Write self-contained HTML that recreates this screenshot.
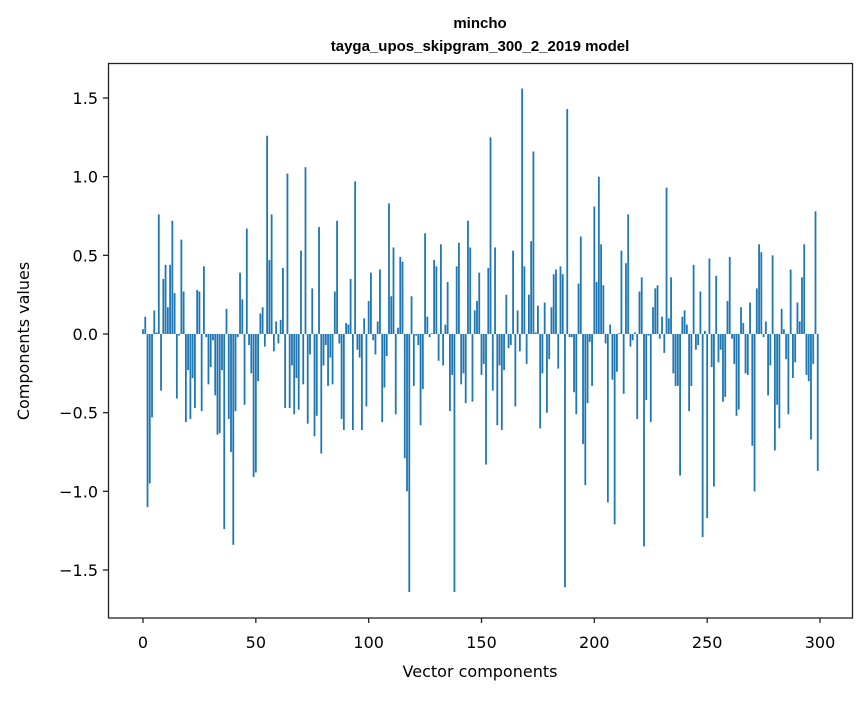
<!DOCTYPE html>
<html><head><meta charset="utf-8"><style>
body{margin:0;background:#fff;}
svg text{font-family:"DejaVu Sans","Liberation Sans",sans-serif;fill:#000;}
svg text.title{font-family:"Liberation Sans",sans-serif;}
</style></head><body>
<svg id="chart" width="867" height="696">
<text class="title" x="480" y="28" text-anchor="middle" font-size="15" font-weight="bold">mincho</text>
<text class="title" x="480" y="51" text-anchor="middle" font-size="15" font-weight="bold">tayga_upos_skipgram_300_2_2019 model</text>
<g id="bars"></g>
<g id="xticks"></g>
<g id="yticks"></g>
<rect x="108.5" y="63.5" width="744" height="554.5" fill="none" stroke="#222" stroke-width="1.3"/>
<text x="480" y="677" text-anchor="middle" font-size="16">Vector components</text>
<text transform="translate(29,341) rotate(-90)" text-anchor="middle" font-size="16">Components values</text>
</svg>
<script>
const values = [0.03,0.11,-1.1,-0.95,-0.53,0.15,0.01,0.76,-0.36,0.35,
0.44,0.17,0.44,0.72,0.26,-0.41,-0.01,0.60,0.27,-0.56,
-0.23,-0.54,-0.28,-0.47,0.28,0.27,-0.49,0.43,-0.02,-0.32,
-0.21,-0.04,-0.39,-0.64,-0.63,-0.23,-1.24,0.16,-0.54,-0.75,
-1.34,-0.49,-0.02,0.39,0.22,-0.45,0.67,-0.07,-0.25,-0.91,
-0.88,-0.30,0.13,0.17,-0.08,1.26,0.47,0.76,-0.11,0.08,
-0.06,0.09,0.42,-0.47,1.02,-0.47,-0.20,-0.51,-0.28,-0.48,
0.53,-0.32,1.06,-0.57,-0.13,0.29,-0.65,-0.52,0.68,-0.76,
-0.20,-0.07,-0.33,-0.15,-0.32,0.27,0.72,-0.06,-0.54,-0.61,
0.07,0.06,0.35,-0.61,0.97,-0.10,-0.15,-0.61,0.10,-0.46,
0.21,0.39,-0.04,-0.13,0.08,0.41,-0.56,-0.34,-0.14,0.83,
0.24,0.55,-0.51,0.04,0.49,0.46,-0.79,-1.00,-1.64,0.24,
-0.33,-0.01,-0.07,-0.58,-0.35,0.64,0.11,-0.02,0.005,0.47,
0.43,-0.17,0.57,-0.20,0.06,0.33,-0.49,-0.26,-1.64,0.43,
0.58,-0.32,-0.25,-0.44,0.72,0.55,-0.43,0.15,0.21,0.39,
-0.26,-0.19,-0.83,0.42,1.25,-0.36,0.55,-0.58,-0.20,-0.61,
-0.23,0.25,-0.09,-0.07,0.53,-0.46,0.15,-0.11,1.56,0.43,
-0.19,0.25,0.59,1.16,0.01,0.18,-0.60,-0.25,0.20,-0.50,
-0.16,0.17,0.38,0.41,-0.22,0.43,0.38,-1.61,1.43,-0.02,
-0.02,-0.37,-0.51,0.32,0.62,-0.70,-0.96,-0.44,-0.05,-0.33,
0.81,0.33,1.00,0.57,0.31,-0.06,-1.07,0.06,-0.29,-1.21,
-0.24,0.005,0.53,-0.38,0.45,0.76,-0.08,-0.04,0.01,-0.54,
0.27,0.36,-1.35,-0.42,-0.01,-0.56,0.17,0.29,0.31,-0.03,
0.11,-0.12,0.93,0.10,0.36,-0.25,-0.33,-0.33,-0.90,0.11,
0.15,0.06,-0.49,-0.33,0.44,-0.10,-0.07,0.27,-1.29,0.02,
-1.17,0.48,-0.21,-0.97,0.37,-0.18,-0.10,-0.43,-0.40,0.21,
0.49,-0.03,-0.19,-0.52,-0.48,0.17,0.07,-0.25,-0.26,0.20,
-0.71,-1.00,0.29,0.57,0.52,-0.02,0.08,-0.39,-0.20,0.50,
-0.74,-0.45,-0.60,0.16,0.03,-0.16,-0.51,0.41,-0.28,-0.18,
0.20,0.08,0.36,0.57,-0.26,-0.30,-0.67,-0.19,0.78,-0.87];
const xTickLabels = ["0","50","100","150","200","250","300"];
const xTickValues = [0,50,100,150,200,250,300];
const yTickValues = [-1.5,-1.0,-0.5,0.0,0.5,1.0,1.5];
const yTickLabels = ["\u22121.5","\u22121.0","\u22120.5","0.0","0.5","1.0","1.5"];

const NS="http://www.w3.org/2000/svg";
function xScale(v){return 143+v*(677/300);}
function yScale(v){return 334-v*157.33;}
const bars=document.getElementById('bars');
values.forEach((v,i)=>{
  const r=document.createElementNS(NS,'rect');
  const w=0.8*(677/300);
  const y0=yScale(0), y1=yScale(v);
  r.setAttribute('x',xScale(i)-w/2);
  r.setAttribute('y',Math.min(y0,y1));
  r.setAttribute('width',w);
  r.setAttribute('height',Math.max(Math.abs(y1-y0),0.3));
  r.setAttribute('fill','#1f77b4');
  
  
  bars.appendChild(r);
});
const xg=document.getElementById('xticks');
xTickValues.forEach((v,i)=>{
  const x=xScale(v);
  const l=document.createElementNS(NS,'line');
  l.setAttribute('x1',x);l.setAttribute('x2',x);l.setAttribute('y1',618);l.setAttribute('y2',623);
  l.setAttribute('stroke','#222');
  l.setAttribute('stroke-width','1.3');
  
  
  xg.appendChild(l);
  const t=document.createElementNS(NS,'text');
  t.setAttribute('x',x);t.setAttribute('y',648);t.setAttribute('text-anchor','middle');t.setAttribute('font-size','16');
  t.textContent=xTickLabels[i];
  
  
  xg.appendChild(t);
});
const yg=document.getElementById('yticks');
yTickValues.forEach((v,i)=>{
  const y=yScale(v);
  const l=document.createElementNS(NS,'line');
  l.setAttribute('x1',103);l.setAttribute('x2',108);l.setAttribute('y1',y);l.setAttribute('y2',y);
  l.setAttribute('stroke','#222');
  l.setAttribute('stroke-width','1.3');
  
  
  yg.appendChild(l);
  const t=document.createElementNS(NS,'text');
  t.setAttribute('x',98);t.setAttribute('y',y+6);t.setAttribute('text-anchor','end');t.setAttribute('font-size','16');
  t.textContent=yTickLabels[i];
  
  
  yg.appendChild(t);
});
</script>
</body></html>
